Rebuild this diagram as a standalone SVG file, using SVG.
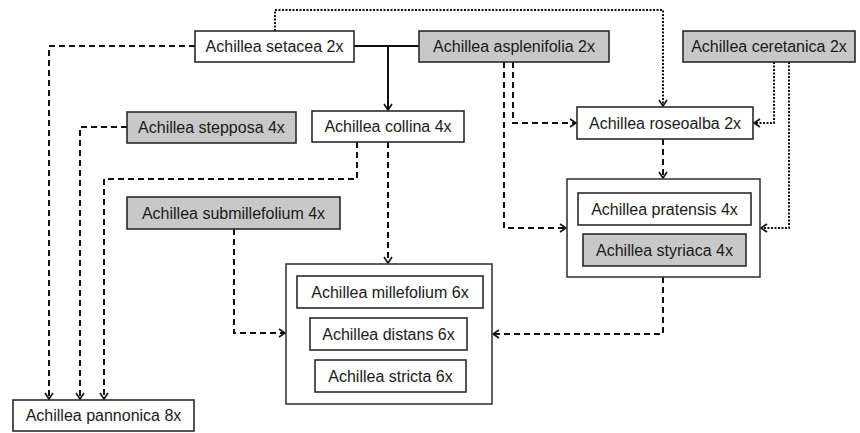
<svg xmlns="http://www.w3.org/2000/svg" width="860" height="433" viewBox="0 0 860 433">
<style>
.box{fill:#ffffff;stroke:#2a2a2a;stroke-width:1.6}
.gray{fill:#c8c8c8;stroke:#2a2a2a;stroke-width:1.6}
.outer{fill:#ffffff;stroke:#3a3a3a;stroke-width:1.6}
text{font-family:"Liberation Sans",Arial,sans-serif;font-size:16px;fill:#1a1a1a;text-anchor:middle;dominant-baseline:central}
.solid{fill:none;stroke:#111;stroke-width:2}
.dash{fill:none;stroke:#111;stroke-width:2;stroke-dasharray:6 4}
.dot{fill:none;stroke:#111;stroke-width:2;stroke-dasharray:2 1.5}
</style>
<defs>
<marker id="arr" markerUnits="userSpaceOnUse" markerWidth="10" markerHeight="10" refX="7" refY="5" orient="auto">
<path d="M1,1 L7,5 L1,9" fill="none" stroke="#111" stroke-width="1.6"/>
</marker>
</defs>
<rect width="860" height="433" fill="#ffffff"/>
<g id="connectors">
<path class="solid" d="M354,46 H419"/>
<path class="solid" d="M388,46 V110" marker-end="url(#arr)"/>
<path class="dash" d="M195,46 H49 V399" marker-end="url(#arr)"/>
<path class="dash" d="M127,127 H80 V399" marker-end="url(#arr)"/>
<path class="dash" d="M357,142 V179 H104 V399" marker-end="url(#arr)"/>
<path class="dash" d="M388,142 V263" marker-end="url(#arr)"/>
<path class="dash" d="M234,229 V333 H285" marker-end="url(#arr)"/>
<path class="dash" d="M513,62 V123 H576" marker-end="url(#arr)"/>
<path class="dash" d="M504,62 V228 H566" marker-end="url(#arr)"/>
<path class="dot" d="M275,31 V10 H663 V106" marker-end="url(#arr)"/>
<path class="dot" d="M774,62 V123 H754" marker-end="url(#arr)"/>
<path class="dot" d="M789,62 V228 H761" marker-end="url(#arr)"/>
<path class="dash" d="M663,139 V178" marker-end="url(#arr)"/>
<path class="dash" d="M663,277 V334 H493" marker-end="url(#arr)"/>
</g>
<g id="setacea"><rect class="box" x="195" y="31" width="159" height="31"/><text x="274.5" y="46.5">Achillea setacea 2x</text></g>
<g id="asplenifolia"><rect class="gray" x="419" y="31" width="190" height="31"/><text x="514" y="46.5">Achillea asplenifolia 2x</text></g>
<g id="ceretanica"><rect class="gray" x="683" y="31" width="172" height="31"/><text x="769" y="46.5">Achillea ceretanica 2x</text></g>
<g id="stepposa"><rect class="gray" x="127" y="112" width="169" height="31"/><text x="211.5" y="127.5">Achillea stepposa 4x</text></g>
<g id="collina"><rect class="box" x="312" y="111" width="152" height="31"/><text x="388" y="126.5">Achillea collina 4x</text></g>
<g id="roseoalba"><rect class="box" x="577" y="107" width="176" height="32"/><text x="665" y="123">Achillea roseoalba 2x</text></g>
<g id="submillefolium"><rect class="gray" x="127" y="197" width="213" height="32"/><text x="233.5" y="213">Achillea submillefolium 4x</text></g>
<g id="group-pratensis-styriaca">
<rect class="outer" x="567" y="179" width="193" height="98"/>
<g id="pratensis"><rect class="box" x="578" y="193" width="173" height="32"/><text x="664.5" y="209">Achillea pratensis 4x</text></g>
<g id="styriaca"><rect class="gray" x="583" y="234" width="163" height="32"/><text x="664.5" y="250">Achillea styriaca 4x</text></g>
</g>
<g id="group-6x">
<rect class="outer" x="286" y="264" width="206" height="140"/>
<g id="millefolium"><rect class="box" x="297" y="276" width="186" height="32"/><text x="390" y="292">Achillea millefolium 6x</text></g>
<g id="distans"><rect class="box" x="310" y="318" width="157" height="32"/><text x="388.5" y="334">Achillea distans 6x</text></g>
<g id="stricta"><rect class="box" x="315" y="360" width="151" height="32"/><text x="390.5" y="376">Achillea stricta 6x</text></g>
</g>
<g id="pannonica"><rect class="box" x="13" y="400" width="181" height="31"/><text x="103.5" y="415.5">Achillea pannonica 8x</text></g>
</svg>
